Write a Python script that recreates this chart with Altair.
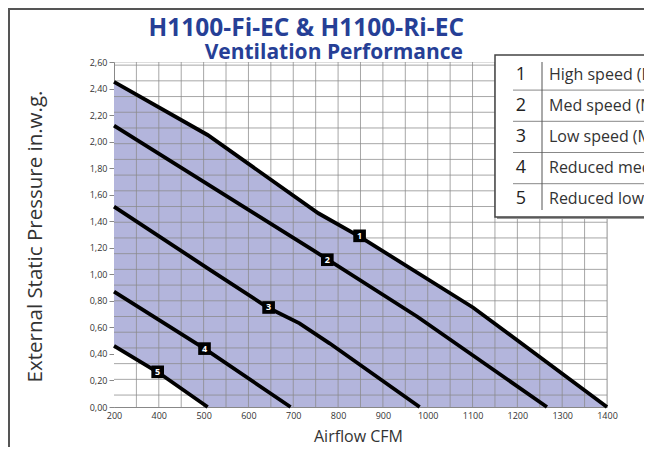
import altair as alt
import pandas as pd

# ---- data ----
c1_x = [200, 509, 756, 850, 1101, 1400]
c1_y = [2.45, 2.05, 1.46, 1.28, 0.75, 0.0]
c2_x = [200, 745, 977, 1266]
c2_y = [2.12, 1.18, 0.68, 0.0]
c3_x = [200, 516, 643, 714, 781, 982]
c3_y = [1.51, 1.03, 0.75, 0.63, 0.48, 0.0]
c4_x = [200, 502, 694]
c4_y = [0.87, 0.44, 0.0]
c5_x = [200, 398, 509]
c5_y = [0.46, 0.26, 0.0]

label_ids = ["1", "2", "3", "4", "5"]
label_x = [848, 776, 645, 502, 395]
label_y = [1.29, 1.11, 0.75, 0.44, 0.265]

legend_nums = ["1", "2", "3", "4", "5"]
legend_texts = ["High speed (Max)", "Med speed (Medium)", "Low speed (Minimum)",
                "Reduced medium", "Reduced low"]

x_ticks = [200, 400, 500, 600, 700, 800, 900, 1000, 1100, 1200, 1300, 1400]
y_ticks = [0.0, 0.2, 0.4, 0.6, 0.8, 1.0, 1.2, 1.4, 1.6, 1.8, 2.0, 2.2, 2.4, 2.6]
x_grid = [300] + list(range(400, 1401, 50))
y_grid = [round(0.09 + 0.1184 * k, 4) for k in range(22)]

title1 = "H1100-Fi-EC & H1100-Ri-EC"
title2 = "Ventilation Performance"

# ---- frames ----
curves = [(c1_x, c1_y), (c2_x, c2_y), (c3_x, c3_y), (c4_x, c4_y), (c5_x, c5_y)]
rows = []
for i, (xs_, ys_) in enumerate(curves):
    for j, (a, b) in enumerate(zip(xs_, ys_)):
        rows.append({"curve": str(i + 1), "order": j, "cfm": a, "esp": b})
lines_df = pd.DataFrame(rows)
c1_df = pd.DataFrame({"cfm": c1_x, "esp": c1_y})
c5_df = pd.DataFrame({"cfm": c5_x, "esp": c5_y})
lab_df = pd.DataFrame({"id": label_ids, "cfm": label_x, "esp": label_y})
xg_df = pd.DataFrame({"cfm": x_grid})
yg_df = pd.DataFrame({"esp": y_grid})
one = pd.DataFrame({"a": [0]})

W, H = 493, 345
XS = alt.Scale(domain=[200, 400, 1400], range=[0, 44.8, W], nice=False)
YS = alt.Scale(domain=[0, 2.6], nice=False)
GRID_COL = "#8a8a8a"
FILL = "#b3b5dc"
BLUE = "#263f96"

x_axis = alt.Axis(values=x_ticks, format="d", ticks=False, grid=False,
                  labelFlush=False, labelOverlap=False,
                  labelFontSize=9, labelColor="#333", labelPadding=4,
                  domainColor="#888", title="Airflow CFM", titleFontSize=16,
                  titleFontWeight="normal", titleColor="#333",
                  titleX=244, titleY=34, titleBaseline="alphabetic")
y_axis = alt.Axis(values=y_ticks, grid=False, tickSize=5, tickColor="#888",
                  domainColor="#888", labelFontSize=9, labelColor="#333",
                  labelPadding=2, labelFlush=False, labelOverlap=False,
                  labelExpr="replace(format(datum.value, '.2f'), '.', ',')",
                  title="External Static Pressure in.w.g.", titleFontSize=20.5,
                  titleFontWeight="normal", titleColor="#333",
                  titleX=-79, titleY=174, titleAngle=270, titleAlign="center",
                  titleBaseline="middle")

X = alt.X("cfm:Q", scale=XS, axis=x_axis)
Y = alt.Y("esp:Q", scale=YS, axis=y_axis)

area1 = alt.Chart(c1_df).mark_area(color=FILL, opacity=1).encode(x=X, y=Y)
area5 = alt.Chart(c5_df).mark_area(color="white", opacity=1).encode(x=X, y=Y)
vgrid = alt.Chart(xg_df).mark_rule(color=GRID_COL, strokeWidth=1, opacity=0.75).encode(x=X)
hgrid = alt.Chart(yg_df).mark_rule(color=GRID_COL, strokeWidth=1, opacity=0.75).encode(y=Y)
lines = alt.Chart(lines_df).mark_line(color="black", strokeWidth=3.8, strokeCap="butt").encode(
    x=X, y=Y, detail="curve:N", order="order:Q")
lab_sq = alt.Chart(lab_df).mark_point(shape="square", filled=True, color="black",
                                      size=160, opacity=1).encode(x=X, y=Y)
lab_tx = alt.Chart(lab_df).mark_text(color="white", fontSize=9, fontWeight="bold",
                                     baseline="middle", align="center").encode(
    x=X, y=Y, text="id:N")

t1 = alt.Chart(one).mark_text(text=title1, font="Open Sans", fontSize=24.5,
                              fontWeight="bold", color=BLUE, align="right",
                              baseline="alphabetic").encode(
    x=alt.value(350), y=alt.value(-26))
t2 = alt.Chart(one).mark_text(text=title2, font="Open Sans", fontSize=21,
                              fontWeight="bold", color=BLUE, align="right",
                              baseline="alphabetic").encode(
    x=alt.value(349), y=alt.value(-3))

# legend box
LX, LY, LB = 381, -7, 155
shadow = alt.Chart(one).mark_rect(color="#999").encode(
    x=alt.value(LX + 2), x2=alt.value(760), y=alt.value(LY + 2), y2=alt.value(LB + 2))
box = alt.Chart(one).mark_rect(fill="white", stroke="#444", strokeWidth=1.5).encode(
    x=alt.value(LX), x2=alt.value(760), y=alt.value(LY), y2=alt.value(LB))
legend_layers = [shadow, box]
row_h = 31.2
row0 = 12.5
for k in range(1, 5):
    legend_layers.append(
        alt.Chart(one).mark_rule(color="#888", strokeWidth=1).encode(
            x=alt.value(399), x2=alt.value(760),
            y=alt.value(row0 + row_h * k - 15.6)))
legend_layers.append(
    alt.Chart(one).mark_rule(color="#555", strokeWidth=1).encode(
        x=alt.value(428), y=alt.value(0), y2=alt.value(148)))
for k, (n, t) in enumerate(zip(legend_nums, legend_texts)):
    yy = row0 + row_h * k
    legend_layers.append(
        alt.Chart(one).mark_text(text=n, fontSize=18, color="#222", align="center",
                                 baseline="middle", font="Open Sans").encode(
            x=alt.value(407), y=alt.value(yy)))
    legend_layers.append(
        alt.Chart(one).mark_text(text=t, fontSize=16, color="#333", align="left",
                                 baseline="middle", font="Open Sans").encode(
            x=alt.value(435), y=alt.value(yy)))

frame = alt.Chart(one).mark_rect(fillOpacity=0, stroke="#555", strokeWidth=2).encode(
    x=alt.value(-105), x2=alt.value(800), y=alt.value(-53), y2=alt.value(600))

chart = alt.layer(
    area1, area5, vgrid, hgrid, lines, lab_sq, lab_tx, t1, t2,
    *legend_layers, frame
).properties(
    width=W, height=H,
    autosize=alt.AutoSizeParams(type="none"),
    padding={"left": 106, "top": 54, "right": 37, "bottom": 40},
    background="white",
).configure_view(strokeWidth=0).configure(font="Open Sans")

chart.save("out.html", embed_options={"renderer": "svg", "actions": False})
